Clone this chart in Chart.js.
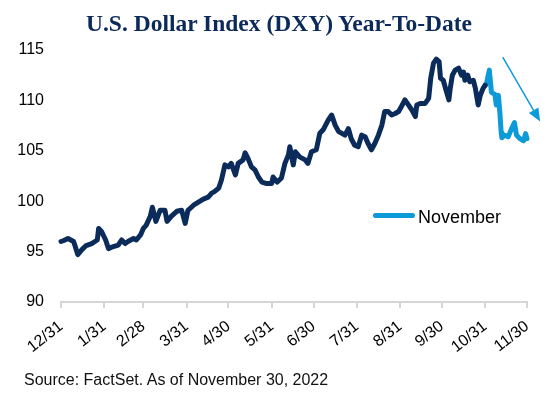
<!DOCTYPE html>
<html>
<head>
<meta charset="utf-8">
<script src="https://cdn.jsdelivr.net/npm/chart.js@4.4.0/dist/chart.umd.min.js"></script>
<style>
  html, body { margin: 0; padding: 0; background: #fff; }
  #wrap { position: relative; width: 553px; height: 394px; overflow: hidden; font-family: "Liberation Sans", Arial, sans-serif; }
  #chart { position: absolute; left: 0; top: 0; }
  #title { position: absolute; left: 86px; top: 11px; font: bold 23.5px/24px "Liberation Serif", "Times New Roman", serif; color: #0c2a59; white-space: nowrap; }
  #source { position: absolute; left: 24px; top: 372px; font-size: 16px; line-height: 16px; color: #111; white-space: nowrap; }
  #legend { position: absolute; left: 373px; top: 208px; font-size: 18px; line-height: 18px; color: #000; white-space: nowrap; }
  #legend i { display: inline-block; width: 42px; height: 5px; border-radius: 3px; background: #0d9ad9; vertical-align: 5px; margin-right: 3px; }
</style>
</head>
<body>
<div id="wrap">
  <canvas id="chart" width="553" height="394"></canvas>
  <div id="title">U.S. Dollar Index (DXY) Year-To-Date</div>
  <div id="legend"><i></i>November</div>
  <div id="source">Source: FactSet. As of November 30, 2022</div>
</div>
<script>
// x positions are days since 12/31/2021
const tickDays = [0, 31, 59, 90, 120, 151, 181, 212, 243, 273, 304, 334];
const tickLabels = ["12/31", "1/31", "2/28", "3/31", "4/30", "5/31", "6/30", "7/31", "8/31", "9/30", "10/31", "11/30"];

const ytdDays = [0, 2, 5, 7, 9, 10, 12, 15, 18, 22, 26, 27, 29, 32, 34, 37.5, 41, 43.5, 46, 48, 52, 54, 57, 59, 61, 64, 65.5,
  68, 71, 74.5, 76, 79, 83, 86.5, 89, 91, 95, 98.5, 102, 105.5, 108, 110, 113, 115, 117.5, 120, 122, 125, 127, 130.5, 132,
  134, 136.5, 139, 141.5, 144, 147.5, 151, 152, 155, 158, 160.5, 163, 164, 166.5, 168, 171, 175, 177, 179.5, 183, 185.5,
  188, 191.5, 194, 196.5, 199, 201, 203.5, 206, 208, 210.5, 213, 215.5, 218, 220, 222.5, 225, 227.5, 230, 232, 234.5, 237,
  239.5, 242, 244, 246.5, 249, 251.5, 254, 255, 257.5, 261, 263.5, 265, 267, 269, 271, 272, 274, 276, 278, 279, 280.5,
  282.5, 285, 287, 288.5, 289.5, 291.5, 293, 295.5, 297, 299, 300.5, 302.5, 304];
const ytdValues = [96.0, 96.1, 96.3, 96.15, 96.0, 95.6, 94.7, 95.2, 95.6, 95.8, 96.15, 97.3, 97.0, 96.15, 95.3, 95.5, 95.65,
  96.15, 95.8, 96.0, 96.3, 96.15, 96.65, 97.3, 97.6, 98.5, 99.4,
  98.0, 99.1, 99.1, 98.0, 98.5, 99.0, 99.1, 97.8, 99.1, 99.6, 99.9, 100.2, 100.4, 100.8, 100.95, 101.3, 102.1, 103.6, 103.4,
  103.75, 102.6, 103.75, 104.1, 104.8,
  104.25, 103.4, 103.1, 102.4, 101.9, 101.75, 101.75, 102.4, 101.9, 102.3, 103.75, 104.6, 105.4, 103.6, 104.9, 104.4, 104.1,
  103.75, 104.9, 105.1, 106.75,
  107.1, 108.05, 108.55, 107.55, 106.9, 106.75, 106.55, 107.2, 106.2, 105.55, 105.4, 106.55, 106.4, 105.75, 105.1, 105.75,
  106.55, 107.55, 108.9, 108.9, 108.55,
  108.7, 108.9, 109.4, 110.05, 109.55, 109.05, 108.4, 109.55, 109.7, 109.7, 110.2, 112.2, 113.7, 114.1, 113.85, 112.2, 112.0,
  111.0, 110.05, 111.2, 112.5,
  113.0, 113.2, 112.5, 112.8, 112.0, 112.5, 111.85, 112.0, 111.2, 109.55, 110.5, 111.2, 111.5];

const novDays = [304, 305, 307, 308.5, 311, 312, 313.5, 314.5, 315.5, 316, 318, 320.5, 323, 325, 326.5, 329, 331.5, 333, 334];
const novValues = [111.5, 111.7, 113.0, 110.8, 110.6, 109.55, 110.5, 108.9, 106.8, 106.3, 106.55, 106.4, 107.2, 107.8,
  106.55, 106.2, 106.0, 106.7, 106.2];

// annotation arrow, in data coordinates [day, index]
const arrowFrom = [316.6, 114.3];
const arrowTo = [343.4, 107.9];

const NAVY = "#0b2b5b";
const LIGHT = "#0d9ad9";
const AXIS_GREY = "#d6d6d6";

const toPoints = (xs, ys) => xs.map((x, i) => ({ x, y: ys[i] }));

const arrowPlugin = {
  id: "arrow",
  afterDatasetsDraw(chart) {
    const { ctx, scales: { x, y } } = chart;
    const x1 = x.getPixelForValue(arrowFrom[0]), y1 = y.getPixelForValue(arrowFrom[1]);
    const x2 = x.getPixelForValue(arrowTo[0]), y2 = y.getPixelForValue(arrowTo[1]);
    const ang = Math.atan2(y2 - y1, x2 - x1);
    const head = 13, half = 5.5;
    const bx = x2 - head * Math.cos(ang), by = y2 - head * Math.sin(ang);
    ctx.save();
    ctx.strokeStyle = LIGHT;
    ctx.fillStyle = LIGHT;
    ctx.lineWidth = 1.5;
    ctx.beginPath();
    ctx.moveTo(x1, y1);
    ctx.lineTo(bx, by);
    ctx.stroke();
    ctx.beginPath();
    ctx.moveTo(x2, y2);
    ctx.lineTo(bx + half * Math.sin(ang), by - half * Math.cos(ang));
    ctx.lineTo(bx - half * Math.sin(ang), by + half * Math.cos(ang));
    ctx.closePath();
    ctx.fill();
    ctx.restore();
  },
};

new Chart(document.getElementById("chart"), {
  type: "line",
  data: {
    datasets: [
      {
        label: "YTD",
        data: toPoints(ytdDays, ytdValues),
        borderColor: NAVY,
        borderWidth: 5,
        pointRadius: 0,
        tension: 0,
        borderJoinStyle: "round",
        borderCapStyle: "round",
      },
      {
        label: "November",
        data: toPoints(novDays, novValues),
        borderColor: LIGHT,
        borderWidth: 5,
        pointRadius: 0,
        tension: 0,
        borderJoinStyle: "round",
        borderCapStyle: "round",
      },
    ],
  },
  options: {
    responsive: false,
    animation: false,
    parsing: false,
    clip: false,
    layout: { padding: { top: 50, right: 26, left: 0, bottom: 0 } },
    plugins: { legend: { display: false }, tooltip: { enabled: false } },
    scales: {
      x: {
        type: "linear",
        min: 0,
        max: 334,
        afterBuildTicks: (scale) => { scale.ticks = tickDays.map((value) => ({ value })); },
        afterFit: (scale) => { scale.height = 92; },
        ticks: {
          autoSkip: false,
          minRotation: 38,
          maxRotation: 38,
          padding: 9,
          color: "#000",
          font: { family: "'Liberation Sans', Arial, sans-serif", size: 16 },
          callback: (value) => tickLabels[tickDays.indexOf(value)] ?? "",
        },
        grid: { drawOnChartArea: false, drawTicks: true, tickLength: 6, color: AXIS_GREY, lineWidth: 2 },
        border: { display: true, color: AXIS_GREY, width: 2 },
      },
      y: {
        min: 90,
        max: 115,
        afterFit: (scale) => { scale.width = 61; },
        ticks: {
          stepSize: 5,
          padding: 17,
          color: "#000",
          font: { family: "'Liberation Sans', Arial, sans-serif", size: 16 },
        },
        grid: { display: false, drawTicks: false },
        border: { display: false },
      },
    },
  },
  plugins: [arrowPlugin],
});
</script>
</body>
</html>
